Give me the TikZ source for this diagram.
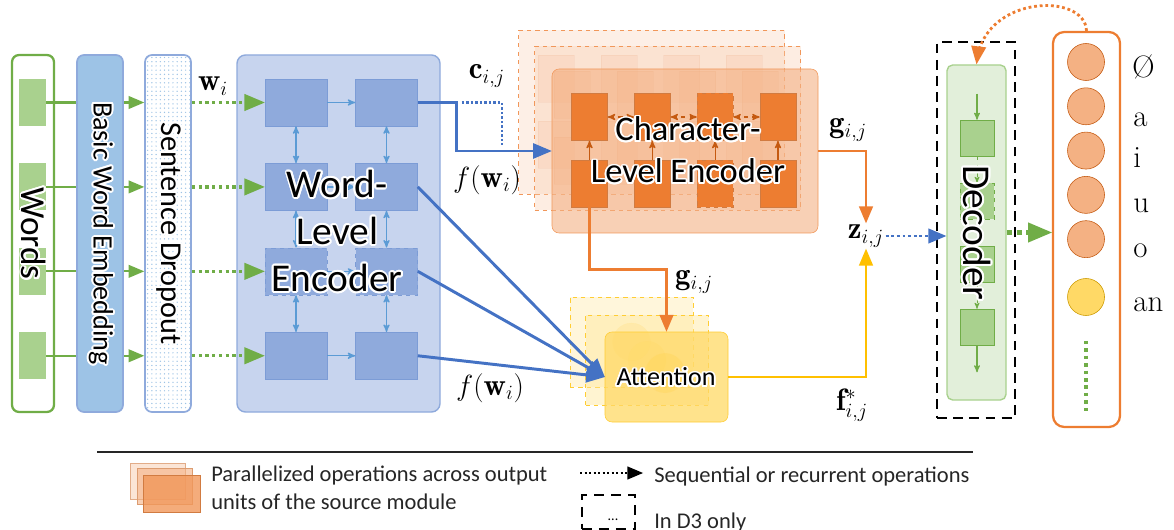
\documentclass[tikz,border=0pt]{standalone}
\usepackage{fontspec}
\setsansfont{Carlito}
\newfontfamily\unitfont{Latin Modern Roman}
\usepackage{tikz}
\usetikzlibrary{arrows,shapes,backgrounds,patterns}
\usepackage{contour}
\contourlength{1.3pt}
\newdimen\pix
\pix=0.025cm
\newcommand{\glow}[1]{\contour{white}{#1}}
\definecolor{wgreen}{HTML}{70AD47}
\definecolor{lgreen}{HTML}{A9D18E}
\definecolor{pgreen}{HTML}{E2EFDA}
\definecolor{wblue}{HTML}{4472C4}
\definecolor{mblue}{HTML}{8FAADC}
\definecolor{lblue}{HTML}{C7D4EE}
\definecolor{sblue}{HTML}{5B9BD5}
\definecolor{eblue}{HTML}{9DC3E6}
\definecolor{corange}{HTML}{ED7D31}
\definecolor{lorange}{HTML}{F4B183}
\definecolor{porange}{HTML}{F8CBAD}
\definecolor{dorange}{HTML}{C55A11}
\definecolor{cyellow}{HTML}{FFC000}
\definecolor{lyellow}{HTML}{FFD966}
\definecolor{pyellow}{HTML}{FFE699}

\begin{document}
\begin{tikzpicture}[x=0.025cm,y=-0.025cm,>=stealth',font=\sffamily]
  \tikzstyle{column}=[rectangle,rounded corners=5pt,line width=1.2pt,inner sep=0pt,
                      minimum width=46\pix,minimum height=357\pix]
  \tikzstyle{coltext}=[rotate=-90,inner sep=0pt]
  \tikzstyle{wordbox}=[rectangle,fill=lgreen,inner sep=0pt,minimum width=27\pix,minimum height=47\pix]
  \tikzstyle{wcell}=[rectangle,draw=wblue!70,fill=mblue,inner sep=0pt,minimum width=62\pix,minimum height=47\pix]
  \tikzstyle{ccell}=[rectangle,draw=dorange!80,fill=corange,inner sep=0pt,minimum width=36\pix,minimum height=47\pix]
  \tikzstyle{cbox}=[rectangle,draw=corange!80,fill=porange,inner sep=0pt,minimum width=266\pix,minimum height=164\pix]
  \tikzstyle{abox}=[rectangle,draw=cyellow!80,fill=pyellow,inner sep=0pt,minimum width=123\pix,minimum height=90\pix]
  \tikzstyle{dcell}=[rectangle,draw=wgreen,fill=lgreen,inner sep=0pt,minimum width=34\pix,minimum height=36\pix]
  \tikzstyle{unit}=[circle,draw=dorange,fill=lorange,inner sep=0pt,minimum size=37\pix]
  \tikzstyle{mathlab}=[inner sep=1pt,font=\fontsize{22}{24}\selectfont]
  \tikzstyle{outlab}=[anchor=base west,inner sep=0pt,font=\unitfont\fontsize{22}{24}\selectfont]
  \tikzstyle{legtext}=[anchor=base west,inner sep=0pt,text=black!85,font=\sffamily\fontsize{16}{20}\selectfont]
  \tikzstyle{cellarrow}=[sblue,line width=0.9pt,->]
  \tikzstyle{bigarrow}=[line width=2.1pt,-triangle 45]
  \tikzstyle{seqarrow}=[line width=2.4pt,dash pattern=on 2.4pt off 2.4pt,-triangle 45]
  \useasboundingbox (0,0) rectangle (1174,530);

  % words, embedding, dropout
  \node [column,draw=wgreen,line width=1.6pt,fill=white,minimum width=42\pix] (words) at (33,233.5) {};
  \begin{scope}[node distance=2.11cm]
    \node [wordbox] (wd1) at (32.5,102.5) {};
    \node [wordbox] (wd2) [below of=wd1] {};
    \node [wordbox] (wd3) [below of=wd2] {};
    \node [wordbox] (wd4) [below of=wd3] {};
  \end{scope}
  \node [coltext,font=\sffamily\fontsize{25}{30}\selectfont] (wordslab) at (words) {\glow{Words}};
  \node [column,draw=mblue,preaction={fill=white},pattern=dots,pattern color=eblue] (drop) at (168,233.5) {};
  \node [coltext,font=\sffamily\fontsize{21.5}{26}\selectfont] (droplab) at (drop) {\glow{Sentence Dropout}};
  \draw [wgreen,line width=1.6pt,-triangle 45] (wd1.east) -- (wd1.east -| drop.west);
  \draw [wgreen,line width=1.6pt,-triangle 45] (wd2.east) -- (wd2.east -| drop.west);
  \draw [wgreen,line width=1.6pt,-triangle 45] (wd3.east) -- (wd3.east -| drop.west);
  \draw [wgreen,line width=1.6pt,-triangle 45] (wd4.east) -- (wd4.east -| drop.west);
  \node [column,draw=wblue!60,fill=eblue] (embed) at (100,233.5) {};
  \node [coltext,font=\sffamily\fontsize{20}{24}\selectfont] (embedlab) at (embed) {\glow{Basic Word Embedding}};

  % word-level encoder
  \node [rectangle,rounded corners=6pt,draw=mblue,fill=lblue,line width=1pt,inner sep=0pt,
         minimum width=203\pix,minimum height=357\pix] (wenc) at (338.5,233.5) {};
  \begin{scope}[node distance=2.11cm]
    \node [wcell] (wc11) at (296,102.5) {};
    \node [wcell] (wc21) [below of=wc11] {};
    \node [wcell,dashed] (wc31) [below of=wc21] {};
    \node [wcell] (wc41) [below of=wc31] {};
    \node [wcell] (wc12) at (386.5,102.5) {};
    \node [wcell] (wc22) [below of=wc12] {};
    \node [wcell,dashed] (wc32) [below of=wc22] {};
    \node [wcell] (wc42) [below of=wc32] {};
  \end{scope}
  \draw [cellarrow] (wc11) -- (wc12);
  \draw [cellarrow] (wc21) -- (wc22);
  \draw [cellarrow] (wc31) -- (wc32);
  \draw [cellarrow] (wc41) -- (wc42);
  \draw [cellarrow,<->] (wc11) -- (wc21);
  \draw [cellarrow,<->] (wc21) -- (wc31);
  \draw [cellarrow,<->] (wc31) -- (wc41);
  \draw [cellarrow,<->] (wc12) -- (wc22);
  \draw [cellarrow,<->] (wc22) -- (wc32);
  \draw [cellarrow,<->] (wc32) -- (wc42);
  \node [align=center,font=\sffamily\fontsize{28}{47\pix}\selectfont] (wenclab) at (337,232)
        {\glow{Word-}\\\glow{Level}\\\glow{Encoder}};
  \draw [wgreen,seqarrow] (wd1.east -| drop.east) -- (wc11.west);
  \draw [wgreen,seqarrow] (wd2.east -| drop.east) -- (wc21.west);
  \draw [wgreen,seqarrow] (wd3.east -| drop.east) -- (wc31.west);
  \draw [wgreen,seqarrow] (wd4.east -| drop.east) -- (wc41.west);
  \node [mathlab] (wlab) at (213,86) {$\mathbf{w}_i$};

  % character-level encoder (copies behind)
  \begin{scope}[shift={(-33.5,-38.5)},node distance=1.57cm]
    \node [cbox,dashed,fill opacity=0.3] (cenc) at (685,151) {};
    \node [ccell,opacity=0.1] (cc11) at (589.5,117) {};
    \node [ccell,opacity=0.1] (cc12) [right of=cc11] {};
    \node [ccell,opacity=0.1] (cc13) [right of=cc12] {};
    \node [ccell,opacity=0.1] (cc14) [right of=cc13] {};
    \node [ccell,opacity=0.1] (cc21) at (589.5,183.5) {};
    \node [ccell,opacity=0.1] (cc22) [right of=cc21] {};
    \node [ccell,opacity=0.1] (cc23) [right of=cc22] {};
    \node [ccell,opacity=0.1] (cc24) [right of=cc23] {};
  \end{scope}
  \begin{scope}[shift={(-17.5,-22.5)},node distance=1.57cm]
    \node [cbox,dashed,fill opacity=0.35] (cenc) at (685,151) {};
    \node [ccell,opacity=0.1] (cc11) at (589.5,117) {};
    \node [ccell,opacity=0.1] (cc12) [right of=cc11] {};
    \node [ccell,opacity=0.1] (cc13) [right of=cc12] {};
    \node [ccell,opacity=0.1] (cc14) [right of=cc13] {};
    \node [ccell,opacity=0.1] (cc21) at (589.5,183.5) {};
    \node [ccell,opacity=0.1] (cc22) [right of=cc21] {};
    \node [ccell,opacity=0.1] (cc23) [right of=cc22] {};
    \node [ccell,opacity=0.1] (cc24) [right of=cc23] {};
  \end{scope}
  \begin{scope}[node distance=1.57cm]
    \node [cbox,rounded corners=5pt,fill=lorange,fill opacity=0.6] (cenc) at (685,151) {};
    \node [ccell] (cc11) at (589.5,117) {};
    \node [ccell] (cc12) [right of=cc11] {};
    \node [ccell,dashed] (cc13) [right of=cc12] {};
    \node [ccell] (cc14) [right of=cc13] {};
    \node [ccell] (cc21) at (589.5,183.5) {};
    \node [ccell] (cc22) [right of=cc21] {};
    \node [ccell,dashed] (cc23) [right of=cc22] {};
    \node [ccell] (cc24) [right of=cc23] {};
  \end{scope}
  \draw [dorange,line width=0.9pt,->] (cc21) -- (cc11);
  \draw [dorange,line width=0.9pt,->] (cc22) -- (cc12);
  \draw [dorange,line width=0.9pt,->] (cc23) -- (cc13);
  \draw [dorange,line width=0.9pt,->] (cc24) -- (cc14);
  \draw [dorange,line width=0.9pt,dashed,<->] (cc11) -- (cc12);
  \draw [dorange,line width=0.9pt,dashed,<->] (cc12) -- (cc13);
  \draw [dorange,line width=0.9pt,dashed,<->] (cc13) -- (cc14);
  \node [align=center,font=\sffamily\fontsize{24.5}{42\pix}\selectfont] (cenclab) at (688,151)
        {\glow{Character-}\\\glow{Level Encoder}};

  % attention (copies behind)
  \begin{scope}[shift={(-35,-35)}]
    \node [abox,dashed,fill opacity=0.35] (att) at (666.5,377) {};
    \node [circle,draw=cyellow!40,fill=lyellow,opacity=0.3,minimum size=38\pix] (attc) at (att) {};
  \end{scope}
  \begin{scope}[shift={(-19.5,-17)}]
    \node [abox,dashed,fill opacity=0.45] (att) at (666.5,377) {};
    \node [circle,draw=cyellow!40,fill=lyellow,opacity=0.3,minimum size=38\pix] (attc) at (att) {};
  \end{scope}
  \node [abox,rounded corners=5pt,fill=lyellow,fill opacity=0.75] (att) at (666.5,377) {};
  \node [circle,draw=cyellow!50,fill=cyellow!70,opacity=0.3,minimum size=40\pix] (attc) at (665,373) {};
  \node [font=\sffamily\fontsize{18.5}{22}\selectfont] (attlab) at (666,378) {\glow{Attention}};

  % connections into attention and the character encoder
  \draw [wblue,bigarrow] (wc12.east) -- ++(39,0) |- (cenc.west);
  \draw [wblue,line width=1.6pt,dash pattern=on 1.6pt off 1.6pt] (wc12.east) ++(44,0) -- ++(40,0) -- ++(0,43);
  \draw [wblue,bigarrow] (wc22.east) -- (att.west);
  \draw [wblue,bigarrow] (wc32.east) -- (att.west);
  \draw [wblue,bigarrow] (wc42.east) -- (att.west);
  \draw [corange,line width=1.8pt,-triangle 45] (cc21.south) -- ++(0,62) -| (att.north);
  \node [mathlab] (clab) at (487,76) {$\mathbf{c}_{i,j}$};
  \node [mathlab] (flab1) at (487,180) {$f(\mathbf{w}_i)$};
  \node [mathlab] (flab2) at (490,388) {$f(\mathbf{w}_i)$};
  \node [mathlab] (glab2) at (694,282) {$\mathbf{g}_{i,j}$};

  % z and decoder
  \node [mathlab] (z) at (866,236) {$\mathbf{z}_{i,j}$};
  \draw [corange,line width=1.8pt,-triangle 45] (cenc.east) -| (z.north);
  \draw [cyellow,line width=1.8pt,-triangle 45] (att.east) -| (z.south);
  \node [mathlab] (glab1) at (848,130) {$\mathbf{g}_{i,j}$};
  \node [mathlab] (flab3) at (852,405) {$\mathbf{f}^{*}_{i,j}$};
  \node [rectangle,draw,line width=1.8pt,dash pattern=on 7pt off 4.5pt,inner sep=0pt,
         minimum width=78\pix,minimum height=376\pix] (d3box) at (976,230) {};
  \node [rectangle,rounded corners=4pt,draw=lgreen,fill=pgreen,line width=1pt,inner sep=0pt,
         minimum width=59\pix,minimum height=335\pix] (dec) at (976.5,232.5) {};
  \begin{scope}[node distance=1.575cm]
    \node [dcell] (dc1) at (977,138) {};
    \node [dcell,dashed] (dc2) [below of=dc1] {};
    \node [dcell] (dc3) [below of=dc2] {};
    \node [dcell] (dc4) [below of=dc3] {};
  \end{scope}
  \draw [wgreen,line width=0.8pt,->] (dc1.north) ++(0,-26) -- (dc1.north);
  \draw [wgreen,line width=0.6pt,dashed,->] (dc1) -- (dc2);
  \draw [wgreen,line width=0.6pt,dashed,->] (dc2) -- (dc3);
  \draw [wgreen,line width=0.6pt,dashed,->] (dc3) -- (dc4);
  \draw [wgreen,line width=0.8pt,->] (dc4.south) -- ++(0,27);
  \node [coltext,font=\sffamily\fontsize{28}{32}\selectfont] (declab) at (976,233) {\glow{Decoder}};
  \draw [wblue,line width=2pt,dash pattern=on 2pt off 2pt,-triangle 45] (z.east) -- (z.east -| dec.west);

  % output units
  \node [rectangle,rounded corners=8pt,draw=corange,line width=1.6pt,fill=white,inner sep=0pt,
         minimum width=67\pix,minimum height=395\pix] (outbox) at (1086.5,229.5) {};
  \begin{scope}[node distance=1.107cm]
    \node [unit] (o1) at (1086,62) {};
    \node [unit] (o2) [below of=o1] {};
    \node [unit] (o3) [below of=o2] {};
    \node [unit] (o4) [below of=o3] {};
    \node [unit] (o5) [below of=o4] {};
    \node [unit,draw=cyellow!80!black,fill=lyellow] (o6) at (1086,297) {};
  \end{scope}
  \draw [wgreen,line width=2.5pt,dash pattern=on 2.5pt off 2.8pt] (o6.south) ++(0,25) -- ++(0,72);
  \node [outlab] (l1) at (1132,78) {\O};
  \node [outlab] (l2) at (1133,127) {a};
  \node [outlab] (l3) at (1133,168) {i};
  \node [outlab] (l4) at (1133,213) {u};
  \node [outlab] (l5) at (1133,258) {o};
  \node [outlab] (l6) at (1133,312) {an};
  \draw [wgreen,line width=3pt,dash pattern=on 4pt off 3pt,-triangle 45] (dec.east) -- (dec.east -| outbox.west);
  \draw [corange,line width=2pt,dash pattern=on 2pt off 2pt,-triangle 45]
        (outbox.north) .. controls (1085,-8) and (985,-5) .. (dec.north);

  % legend
  \draw [black!85,line width=1.3pt] (97,452) -- (973,452);
  \node [rectangle,draw=dorange!50,fill=porange,fill opacity=0.5,inner sep=0pt,
         minimum width=55\pix,minimum height=36\pix] (leg1) at (157.5,481) {};
  \node [rectangle,draw=dorange!60,fill=lorange,fill opacity=0.6,inner sep=0pt,
         minimum width=55\pix,minimum height=36\pix] (leg2) at (164.5,486.5) {};
  \node [rectangle,draw=dorange!80,fill=corange!80,fill opacity=0.8,inner sep=0pt,
         minimum width=57\pix,minimum height=37\pix] (leg3) at (171.5,493.5) {};
  \node [legtext] (legpar1) at (211,481) {Parallelized operations across output};
  \node [legtext] (legpar2) at (211,509) {units of the source module};
  \coordinate (seqa) at (580,473);
  \coordinate (seqb) at (643,473);
  \draw [black,line width=1.6pt,dash pattern=on 1.6pt off 1.6pt,-triangle 45] (seqa) -- (seqb);
  \node [legtext] (legseq) at (654,482) {Sequential or recurrent operations};
  \node [rectangle,draw,line width=1.6pt,dash pattern=on 7pt off 5pt,inner sep=0pt,
         minimum width=53\pix,minimum height=34\pix] (d3leg) at (608.5,512) {};
  \node [inner sep=0pt,font=\sffamily\fontsize{10}{12}\selectfont] (d3dots) at (613,520) {...};
  \node [legtext] (legd3) at (654,528) {In D3 only};
\end{tikzpicture}
\end{document}
